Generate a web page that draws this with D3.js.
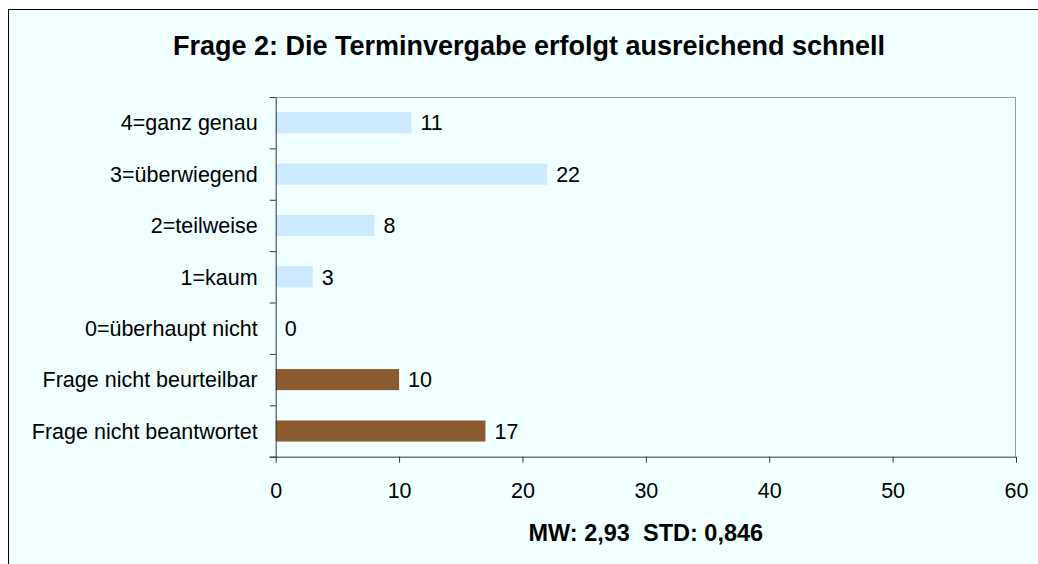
<!DOCTYPE html>
<html>
<head>
<meta charset="utf-8">
<script src="https://cdn.jsdelivr.net/npm/d3@7"></script>
<style>
  body { margin: 0; background: #fff; overflow: hidden; }
  svg { display: block; font-family: "Liberation Sans", Arial, sans-serif; }
  .axis path, .axis line { stroke: #333; }
</style>
</head>
<body>
<div id="chart"></div>
<script>
const categories = ['4=ganz genau', '3=überwiegend', '2=teilweise', '1=kaum', '0=überhaupt nicht', 'Frage nicht beurteilbar', 'Frage nicht beantwortet'];
const values = [11, 22, 8, 3, 0, 10, 17];
const groups = ['scale', 'scale', 'scale', 'scale', 'scale', 'other', 'other'];
const xTicks = [0, 10, 20, 30, 40, 50, 60];
const title = 'Frage 2: Die Terminvergabe erfolgt ausreichend schnell';
const footer = 'MW: 2,93  STD: 0,846';

const W = 1038, H = 564;
const plot = { left: 275.7, right: 1016, top: 97, bottom: 456.7 };

const svg = d3.select('#chart').append('svg')
  .attr('width', W)
  .attr('height', H);

// outer frame (runs off right/bottom edge)
svg.append('rect')
  .attr('x', 8.5).attr('y', 9.5)
  .attr('width', W + 20).attr('height', H + 20)
  .attr('fill', '#f0ffff')
  .attr('stroke', '#000');

svg.append('text')
  .attr('x', 529).attr('y', 55)
  .attr('text-anchor', 'middle')
  .attr('font-size', 27).attr('font-weight', 'bold')
  .text(title);

const x = d3.scaleLinear()
  .domain([0, 60])
  .range([plot.left, plot.right]);

const y = d3.scaleBand()
  .domain(categories)
  .range([plot.top, plot.bottom])
  .paddingInner(0.59)
  .paddingOuter(0.295);

const yEdge = d3.scaleLinear()
  .domain([0, categories.length])
  .range([plot.top, plot.bottom]);

const color = { scale: '#cce9ff', other: '#8b5c2f' };

// plot frame top/right
svg.append('path')
  .attr('d', `M${plot.left},${plot.top + 0.5}H${plot.right - 0.5}V${plot.bottom}`)
  .attr('fill', 'none')
  .attr('stroke', '#8c9ab0');

svg.selectAll('.bar')
  .data(values)
  .enter()
  .append('rect')
  .attr('class', 'bar')
  .attr('x', x(0))
  .attr('y', (d, i) => y(categories[i]))
  .attr('width', d => x(d) - x(0))
  .attr('height', y.bandwidth())
  .attr('fill', (d, i) => color[groups[i]]);

svg.selectAll('.val')
  .data(values)
  .enter()
  .append('text')
  .attr('class', 'val')
  .attr('x', d => x(d) + 9)
  .attr('y', (d, i) => y(categories[i]) + y.bandwidth() / 2)
  .attr('dy', '0.36em')
  .attr('font-size', 21.5)
  .text(d => d);

// y axis: ticks at band edges
svg.append('g')
  .attr('class', 'axis')
  .attr('transform', `translate(${plot.left},0)`)
  .call(d3.axisLeft(yEdge).tickValues(d3.range(categories.length + 1)).tickSize(6).tickSizeOuter(0).tickFormat(''));

svg.selectAll('.cat')
  .data(categories)
  .enter()
  .append('text')
  .attr('class', 'cat')
  .attr('x', plot.left - 18)
  .attr('y', d => y(d) + y.bandwidth() / 2)
  .attr('dy', '0.36em')
  .attr('text-anchor', 'end')
  .attr('font-size', 21.5)
  .text(d => d);

// x axis
const xAxis = svg.append('g')
  .attr('class', 'axis')
  .attr('transform', `translate(0,${plot.bottom})`)
  .call(d3.axisBottom(x).tickValues(xTicks).tickSize(6).tickSizeOuter(0).tickPadding(20));
xAxis.selectAll('text')
  .attr('font-size', 21.5)
  .attr('fill', '#000')
  .attr('font-family', null);
xAxis.select('.domain').attr('d', `M${plot.left - 6},0.5H${plot.right}`);

svg.append('text')
  .attr('x', (plot.left + plot.right) / 2).attr('y', 541)
  .attr('text-anchor', 'middle')
  .attr('font-size', 23.5).attr('font-weight', 'bold')
  .style('white-space', 'pre')
  .text(footer);
</script>
</body>
</html>
